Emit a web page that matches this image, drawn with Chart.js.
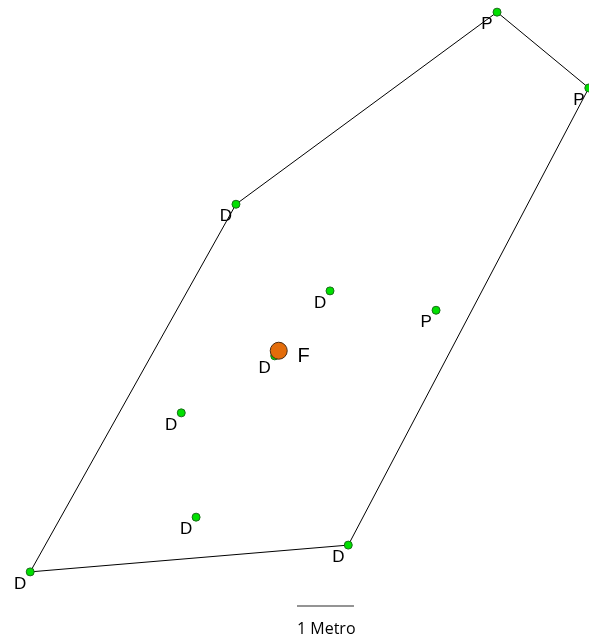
<!DOCTYPE html>
<html>
<head>
<meta charset="utf-8">
<script src="https://cdn.jsdelivr.net/npm/chart.js@4/dist/chart.umd.min.js"></script>
<style>
  html, body { margin: 0; padding: 0; background: #fff; }
  #wrap { width: 589px; height: 642px; position: relative; }
</style>
</head>
<body>
<div id="wrap"><canvas id="chartContainer"></canvas></div>
<script>
// positions in metres (x east, y north)
const pointLabels = ['D', 'D', 'P', 'P', 'D', 'P', 'D', 'D', 'D', 'D'];
const pointX = [0.53, 4.14, 8.72, 10.33, 5.79, 7.65, 4.82, 3.18, 3.44, 6.11];
const pointY = [1.23, 7.68, 11.05, 9.72, 6.16, 5.82, 5.02, 4.02, 2.19, 1.70];

// convex hull, by index into the points above
const hullOrder = [0, 1, 2, 3, 9, 0];

const focusLabel = 'F';
const focusX = [4.89];
const focusY = [5.11];

const scaleBarX = [5.21, 6.21];
const scaleBarY = [0.63, 0.63];
const scaleBarText = '1 Metro';

const points = pointX.map((x, i) => ({ x: x, y: pointY[i], label: pointLabels[i] }));
const hull = hullOrder.map(i => ({ x: pointX[i], y: pointY[i] }));

// draws the letters next to the points and the scale bar caption
const labelPlugin = {
  id: 'labels',
  afterDatasetsDraw(chart) {
    const ctx = chart.ctx;
    const xs = chart.scales.x, ys = chart.scales.y;
    ctx.save();
    ctx.fillStyle = '#000';
    ctx.font = '17px "Liberation Sans", Arial, sans-serif';
    ctx.textAlign = 'center';
    ctx.textBaseline = 'middle';
    points.forEach(p => {
      ctx.fillText(p.label, xs.getPixelForValue(p.x) - 10, ys.getPixelForValue(p.y) + 12);
    });
    ctx.font = '20px "Liberation Sans", Arial, sans-serif';
    ctx.fillText(focusLabel, xs.getPixelForValue(focusX[0]) + 25, ys.getPixelForValue(focusY[0]) + 6);
    ctx.font = '16px "Open Sans", sans-serif';
    ctx.textAlign = 'left';
    ctx.fillText(scaleBarText, xs.getPixelForValue(scaleBarX[0]), ys.getPixelForValue(scaleBarY[0]) + 23);
    ctx.restore();
  }
};

let chart = new Chart(document.getElementById('chartContainer').getContext('2d'), {
  type: 'scatter',
  data: {
    datasets: [{
      label: 'hull',
      data: hull,
      showLine: true,
      borderColor: '#000',
      borderWidth: 1,
      pointRadius: 0,
      fill: false,
      tension: 0,
      order: 3
    },
    {
      label: 'scale',
      data: scaleBarX.map((x, i) => ({ x: x, y: scaleBarY[i] })),
      showLine: true,
      borderColor: '#707070',
      borderWidth: 1.5,
      pointRadius: 0,
      order: 3
    },
    {
      label: 'points',
      data: points,
      pointRadius: 4,
      pointBackgroundColor: '#00e000',
      pointBorderColor: '#1a6b1a',
      pointBorderWidth: 1,
      order: 2
    },
    {
      label: 'focus',
      data: focusX.map((x, i) => ({ x: x, y: focusY[i] })),
      pointRadius: 8.5,
      pointBackgroundColor: '#e36c0a',
      pointBorderColor: '#4a2a10',
      pointBorderWidth: 1,
      order: 1
    }]
  },
  options: {
    responsive: true,
    maintainAspectRatio: false,
    animation: false,
    layout: { padding: 0, autoPadding: false },
    plugins: {
      legend: { display: false },
      tooltip: { enabled: false }
    },
    scales: {
      x: { type: 'linear', display: false, min: 0, max: 589 / 57 },
      y: { type: 'linear', display: false, min: 0, max: 642 / 57 }
    }
  },
  plugins: [labelPlugin]
});
</script>
</body>
</html>
